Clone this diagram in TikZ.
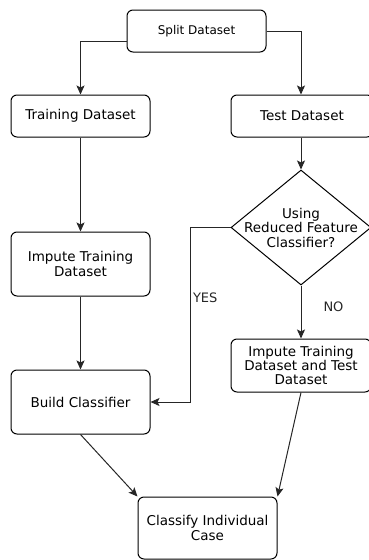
\documentclass[tikz,border=0pt]{standalone}
\usepackage{fontspec}
\setmainfont{DejaVu Sans}
\usetikzlibrary{arrows.meta, calc, positioning, shapes.geometric}

\begin{document}
\begin{tikzpicture}[
    x=1pt, y=-1pt,
    font=\fontsize{13.5}{15}\selectfont,
    stepbox/.style={draw=black, rounded corners=6pt, line width=1pt, align=center,
                    inner sep=0pt, minimum width=139pt},
    decision/.style={draw=black, diamond, line width=1pt, inner sep=0pt,
                     minimum width=140pt, minimum height=115pt},
    flow/.style={-{Stealth[length=9pt, width=8pt, inset=2pt]}, line width=1pt, black!85},
    answer/.style={font=\fontsize{13}{15}\selectfont, inner sep=2pt}
]
\useasboundingbox (0,0) rectangle (368,560);
%
\node[stepbox, minimum height=42pt, font=\fontsize{12}{14}\selectfont] (split) at (196.5,31) {Split Dataset};
\node[stepbox, minimum height=42pt] (train) at (80.5,116) {Training Dataset};
\node[stepbox, minimum height=42pt, minimum width=142pt] (test) at (302,116) {Test Dataset};
\node[decision] (reduced) at (301,227.5) {};
\node[align=center, font=\fontsize{13.5}{14.5}\selectfont] (reducedq) at (reduced.center)
    {Using\\Reduced Feature\\Classifier?};
\node[stepbox, minimum height=64pt] (imptrain) at (80.5,264) {Impute Training\\Dataset};
\node[stepbox, minimum height=53pt, minimum width=140pt, font=\fontsize{13.5}{14}\selectfont]
    (impboth) at (301,365.5) {Impute Training\\Dataset and Test\\Dataset};
\node[stepbox, minimum height=64pt] (build) at (80.5,402) {Build Classifier};
\node[stepbox, minimum height=62pt] (classify) at (207.5,528) {Classify Individual\\Case};

%
\draw[flow] ($(split.west)+(0,10)$) -| (train);
\draw[flow] (split.east) -| ($(test.north)+(-1,0)$);
\draw[flow] ($(test.south)+(-1,0)$) -- (reduced);
\draw[flow] (train) -- (imptrain);
\draw[flow] (imptrain) -- (build);
\draw[flow] (reduced.west) -- ++(-40,0) |- node[answer, pos=0.2, right] (yes) {YES} (build.east);
\draw[flow] (reduced) -- node[answer, pos=0.4, right=20pt] (no) {NO} (impboth);
\draw[flow] (build.south) -- (classify.north west);
\draw[flow] (impboth.south) -- (classify.north east);
\end{tikzpicture}
\end{document}
